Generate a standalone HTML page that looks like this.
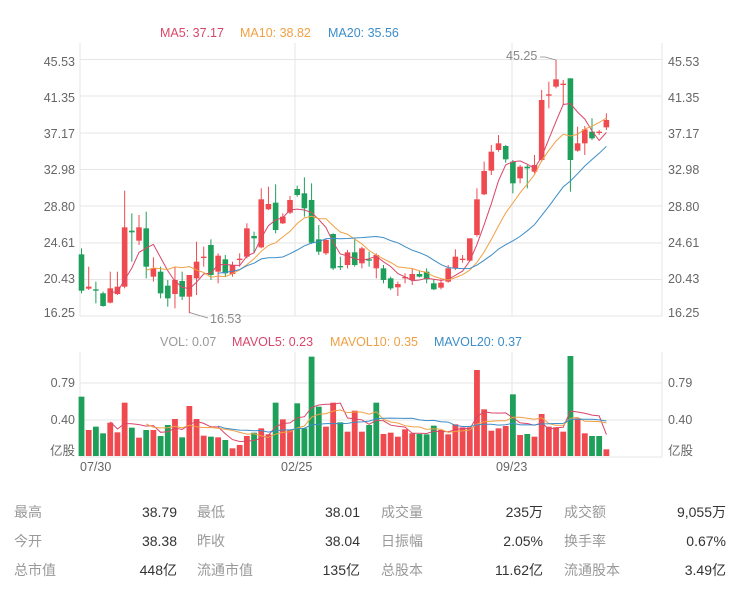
<!DOCTYPE html>
<html><head><meta charset="utf-8">
<style>
html,body{margin:0;padding:0;background:#fff;width:750px;height:595px;overflow:hidden}
svg{position:absolute;left:0;top:0}
text{font-family:"Liberation Sans","Noto Sans CJK SC",sans-serif}
</style></head><body>
<svg id="s" width="750" height="595" xmlns="http://www.w3.org/2000/svg">
<g stroke="#e6e6e6" stroke-width="1">
<line x1="80" y1="59.5" x2="662" y2="59.5"/><line x1="80" y1="96" x2="662" y2="96"/>
<line x1="80" y1="133" x2="662" y2="133"/><line x1="80" y1="169.5" x2="662" y2="169.5"/>
<line x1="80" y1="206" x2="662" y2="206"/><line x1="80" y1="243" x2="662" y2="243"/>
<line x1="80" y1="279.5" x2="662" y2="279.5"/><line x1="80" y1="316" x2="662" y2="316"/>
<line x1="80" y1="43" x2="80" y2="316"/><line x1="662" y1="43" x2="662" y2="316"/>
<line x1="295" y1="43" x2="295" y2="316"/><line x1="512" y1="43" x2="512" y2="316"/>
<line x1="80" y1="383" x2="662" y2="383"/><line x1="80" y1="420" x2="662" y2="420"/>
<line x1="80" y1="457" x2="662" y2="457"/>
<line x1="80" y1="352" x2="80" y2="457"/><line x1="662" y1="352" x2="662" y2="457"/>
<line x1="295" y1="352" x2="295" y2="457"/><line x1="512" y1="352" x2="512" y2="457"/>
</g>
<g font-size="12.5" fill="#666" text-anchor="end">
<text x="75" y="66">45.53</text><text x="75" y="102">41.35</text><text x="75" y="138">37.17</text>
<text x="75" y="174">32.98</text><text x="75" y="211">28.80</text><text x="75" y="247">24.61</text>
<text x="75" y="283">20.43</text><text x="75" y="317">16.25</text>
<text x="75" y="387">0.79</text><text x="75" y="424">0.40</text><text x="75" y="455">亿股</text>
</g>
<g font-size="12.5" fill="#666">
<text x="668" y="66">45.53</text><text x="668" y="102">41.35</text><text x="668" y="138">37.17</text>
<text x="668" y="174">32.98</text><text x="668" y="211">28.80</text><text x="668" y="247">24.61</text>
<text x="668" y="283">20.43</text><text x="668" y="317">16.25</text>
<text x="668" y="387">0.79</text><text x="668" y="424">0.40</text><text x="668" y="455">亿股</text>
<text x="80" y="471">07/30</text><text x="281" y="471">02/25</text><text x="496" y="471">09/23</text>
</g>
<g font-size="12.5">
<text x="160" y="37" fill="#d9466a">MA5: 37.17</text>
<text x="240" y="37" fill="#f0a043">MA10: 38.82</text>
<text x="328" y="37" fill="#3c8dc8">MA20: 35.56</text>
<text x="160" y="346" fill="#999">VOL: 0.07</text>
<text x="232" y="346" fill="#d9466a">MAVOL5: 0.23</text>
<text x="330" y="346" fill="#f0a043">MAVOL10: 0.35</text>
<text x="434" y="346" fill="#3c8dc8">MAVOL20: 0.37</text>
<text x="506" y="60" fill="#888">45.25</text>
<text x="210" y="323" fill="#888">16.53</text>
</g>
<polyline points="540,57 545,57 556,60 556,74" fill="none" stroke="#888" stroke-width="0.8"/>
<polyline points="190,312 191,313 208,318" fill="none" stroke="#888" stroke-width="0.8"/>
<g id="c"></g>
<g font-size="14" fill="#999">
<text x="14" y="517">最高</text><text x="197" y="517">最低</text><text x="381" y="517">成交量</text><text x="564" y="517">成交额</text>
<text x="14" y="546">今开</text><text x="197" y="546">昨收</text><text x="381" y="546">日振幅</text><text x="564" y="546">换手率</text>
<text x="14" y="575">总市值</text><text x="197" y="575">流通市值</text><text x="381" y="575">总股本</text><text x="564" y="575">流通股本</text>
</g>
<g font-size="14" fill="#333" text-anchor="end">
<text x="177" y="517">38.79</text><text x="360" y="517">38.01</text><text x="543" y="517">235万</text><text x="726" y="517">9,055万</text>
<text x="177" y="546">38.38</text><text x="360" y="546">38.04</text><text x="543" y="546">2.05%</text><text x="726" y="546">0.67%</text>
<text x="177" y="575">448亿</text><text x="360" y="575">135亿</text><text x="543" y="575">11.62亿</text><text x="726" y="575">3.49亿</text>
</g>
</svg>
<script>
var A=[['G',703,812,685,820],['R',800,806,740,810],['G',808,812,785,850],['G',820,858,815,860],['R',805,848,755,850],['R',800,822,755,825],['R',622,800,512,805],['G',632,637,580,725],['R',622,662,585,675],['G',625,740,575,775],['R',745,770,712,785],['G',755,820,740,835],['G',797,835,780,860],['R',780,822,740,865],['G',783,830,755,840],['R',765,830,765,880],['R',725,775,665,825],['R',710,714,680,740],['G',675,765,658,780],['R',707,755,700,790],['G',718,760,705,770],['R',735,762,725,770],['R',716,720,700,740],['R',625,710,610,715],['G',648,655,635,700],['R',538,682,505,685],['R',552,568,500,570],['G',548,630,493,640],['R',590,610,580,612],['R',540,578,528,582],['G',507,525,497,530],['G',520,565,472,590],['G',540,668,490,672],['G',658,695,615,705],['R',660,700,655,705],['G',642,745,640,750],['G',738,742,710,750],['R',697,735,690,745],['G',697,735,658,740],['R',685,730,680,745],['G',718,722,695,740],
['R',705,745,700,775],['G',745,780,735,790],['G',775,805,770,810],['R',792,802,785,828],['R',771,775,760,790],['R',762,780,745,795],['G',762,770,752,772],['G',755,778,745,790],['G',790,808,778,810],['R',788,803,778,808],['R',745,785,735,788],['R',710,745,688,750],['R',716,720,705,728],['R',655,722,655,725],['R',538,645,505,650],['R',453,523,425,525],['R',395,452,375,465],['R',370,390,345,395],['G',378,418,375,428],['G',425,490,420,520],['R',440,475,435,490],['G',440,445,435,505],['R',435,455,405,460],['R',240,420,210,425],['R',223,227,185,265],['R',178,200,120,205],['R',191,195,180,255],['G',175,420,175,515],['R',370,392,320,395],['R',328,370,318,405],['G',335,355,295,360],['R',335,339,330,345],['R',300,322,280,330]];
var V=[['G',200],['R',300],['G',290],['G',310],['R',278],['R',307],['R',218],['G',293],['R',323],['G',300],['R',300],['G',318],['G',285],['R',267],['G',322],['R',228],['R',267],['R',317],['G',320],['R',322],['G',330],['R',355],['R',345],['R',318],['G',308],['R',295],['R',313],['G',218],['R',268],['R',300],['G',220],['G',295],['G',80],['G',230],['R',290],['R',218],['G',277],['R',305],['R',242],['R',305],['G',285],['G',218],['R',312],['R',308],['R',320],['R',298],['R',310],['G',312],['G',313],['G',287],['R',300],['R',313],['R',283],['R',292],['R',292],['R',120],['R',238],['R',302],['R',295],['R',288],['G',193],['R',315],['G',312],['R',320],['R',252],['R',290],['R',292],['R',305],['G',78],['R',265],['R',310],['G',318],['G',318],['R',358]];
var RC='#ef4a4f',GC='#1e9f5a',h='';
var cl=[],vl=[];
function X(i){return 81.5+i*7.19;}
A.forEach(function(d,i){var x=X(i),c=d[0]=='R'?RC:GC;
 var t=20+d[1]/3,b=20+d[2]/3,wt=20+d[3]/3,wb=20+d[4]/3;
 if(b-t<1.2)b=t+1.2;
 h+='<line x1="'+x+'" x2="'+x+'" y1="'+wt+'" y2="'+wb+'" stroke="'+c+'" stroke-width="1"/>';
 h+='<rect x="'+(x-2.8)+'" y="'+t+'" width="5.6" height="'+(b-t)+'" fill="'+c+'"/>';
 cl.push(d[0]=='R'?t:b);});
V.forEach(function(d,i){var x=X(i),c=d[0]=='R'?RC:GC,t=330+d[1]/3;
 h+='<rect x="'+(x-2.9)+'" y="'+t+'" width="5.8" height="'+(456-t)+'" fill="'+c+'"/>';vl.push(t);});
function ma(arr,n,col,st){var p=[];for(var i=Math.max(n-1,st||0);i<arr.length;i++){var s=0;for(var j=0;j<n;j++)s+=arr[i-j];p.push(X(i).toFixed(1)+','+(s/n).toFixed(1));}
 return '<polyline points="'+p.join(' ')+'" fill="none" stroke="'+col+'" stroke-width="1"/>';}
h+=ma(cl,5,'#d9466a')+ma(cl,10,'#f0a043')+ma(cl,20,'#3c8dc8');
h+=ma(vl,5,'#d9466a')+ma(vl,10,'#f0a043')+ma(vl,20,'#3c8dc8');
document.getElementById('c').innerHTML=h;
</script>
</body></html>
